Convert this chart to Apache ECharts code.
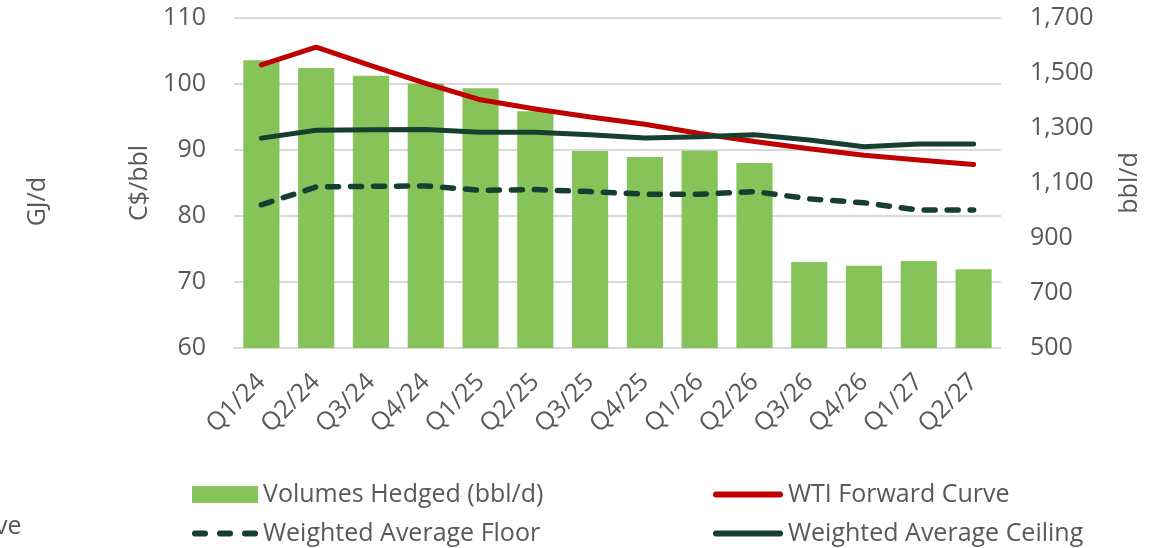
<!DOCTYPE html>
<html>
<head>
<meta charset="utf-8">
<style>
  html, body { margin: 0; padding: 0; background: #fff; }
  #chart { width: 1159px; height: 548px; }
</style>
<script src="https://cdn.jsdelivr.net/npm/echarts@6/dist/echarts.min.js"></script>
</head>
<body>
<div id="chart"></div>
<script>
var quarters = ['Q1/24', 'Q2/24', 'Q3/24', 'Q4/24', 'Q1/25', 'Q2/25', 'Q3/25', 'Q4/25', 'Q1/26', 'Q2/26', 'Q3/26', 'Q4/26', 'Q1/27', 'Q2/27'];
var volumesHedged = [1546, 1518, 1490, 1462, 1445, 1361, 1216, 1195, 1217, 1173, 813, 799, 816, 786];
var wtiForward = [102.9, 105.6, 102.8, 100.1, 97.6, 96.2, 95.0, 93.9, 92.5, 91.3, 90.2, 89.2, 88.5, 87.8];
var avgCeiling = [91.8, 93.0, 93.05, 93.1, 92.7, 92.7, 92.3, 91.8, 92.0, 92.3, 91.5, 90.5, 90.9, 90.9];
var avgFloor = [81.7, 84.4, 84.5, 84.55, 83.9, 84.0, 83.7, 83.3, 83.3, 83.7, 82.6, 82.0, 80.9, 80.9];

var textColor = '#595959';
var font = 'Open Sans';
var fs = 25;
var darkGreen = '#173F30';

// three rounded dashes for the floor legend icon
var dashIcon = 'path://M3,0H13A3,3 0 0 1 13,6H3A3,3 0 0 1 3,0Z' +
    'M28,0H38A3,3 0 0 1 38,6H28A3,3 0 0 1 28,0Z' +
    'M53,0H63A3,3 0 0 1 63,6H53A3,3 0 0 1 53,0Z';
var lineIcon = 'path://M3,0H67A3,3 0 0 1 67,6H3A3,3 0 0 1 3,0Z';

function oneLegend(name, left, top, w, h, icon) {
    return {
        left: left, top: top, itemWidth: w, itemHeight: h, itemGap: 0,
        textStyle: { fontSize: fs, color: textColor, fontFamily: font },
        data: [{ name: name, icon: icon }]
    };
}

var chart = echarts.init(document.getElementById('chart'));
chart.setOption({
    backgroundColor: '#fff',
    textStyle: { fontFamily: font, color: textColor },
    grid: { left: 234, right: 158, top: 18, bottom: 200, containLabel: false },
    legend: [
        oneLegend('Volumes Hedged (bbl/d)', 187, 477, 66, 17, 'rect'),
        oneLegend('WTI Forward Curve', 708, 477, 70, 6, lineIcon),
        oneLegend('Weighted Average Floor', 187, 516, 66, 6, dashIcon),
        oneLegend('Weighted Average Ceiling', 708, 516, 70, 6, lineIcon)
    ],
    graphic: [
        { type: 'text', left: 25, top: 177, rotation: Math.PI / 2,
          style: { text: 'GJ/d', fontSize: fs, fill: textColor, fontFamily: font } },
        { type: 'text', left: -5, top: 514,
          style: { text: 've', fontSize: fs, fill: textColor, fontFamily: font } }
    ],
    xAxis: {
        type: 'category',
        data: quarters,
        axisTick: { show: false },
        axisLine: { lineStyle: { color: '#d9d9d9', width: 2 } },
        axisLabel: { rotate: 45, fontSize: fs, color: textColor, margin: 30, interval: 0 }
    },
    yAxis: [
        {
            type: 'value', min: 60, max: 110, interval: 10,
            name: 'C$/bbl', nameLocation: 'middle', nameRotate: 90, nameGap: 70,
            nameTextStyle: { fontSize: fs, color: textColor },
            axisLine: { show: false }, axisTick: { show: false },
            axisLabel: { fontSize: fs, color: textColor, margin: 28 },
            splitLine: { lineStyle: { color: '#d9d9d9', width: 2 } }
        },
        {
            type: 'value', min: 500, max: 1700, interval: 200,
            name: 'bbl/d', nameLocation: 'middle', nameRotate: 90, nameGap: 116,
            nameTextStyle: { fontSize: fs, color: textColor },
            axisLine: { show: false }, axisTick: { show: false },
            axisLabel: { fontSize: fs, color: textColor, margin: 29,
                formatter: function (v) { return v.toLocaleString('en-US'); } },
            splitLine: { show: false }
        }
    ],
    series: [
        {
            name: 'Volumes Hedged (bbl/d)', type: 'bar', yAxisIndex: 1,
            data: volumesHedged, barWidth: '66%',
            itemStyle: { color: '#86C45A' }
        },
        {
            name: 'WTI Forward Curve', type: 'line', yAxisIndex: 0,
            data: wtiForward, symbol: 'none',
            itemStyle: { color: '#C00000' },
            lineStyle: { color: '#C00000', width: 5, cap: 'round' }
        },
        {
            name: 'Weighted Average Floor', type: 'line', yAxisIndex: 0,
            data: avgFloor, symbol: 'none',
            itemStyle: { color: darkGreen },
            lineStyle: { color: darkGreen, width: 5.5, type: [11, 12], cap: 'round' }
        },
        {
            name: 'Weighted Average Ceiling', type: 'line', yAxisIndex: 0,
            data: avgCeiling, symbol: 'none',
            itemStyle: { color: darkGreen },
            lineStyle: { color: darkGreen, width: 5, cap: 'round' }
        }
    ]
});
</script>
</body>
</html>
